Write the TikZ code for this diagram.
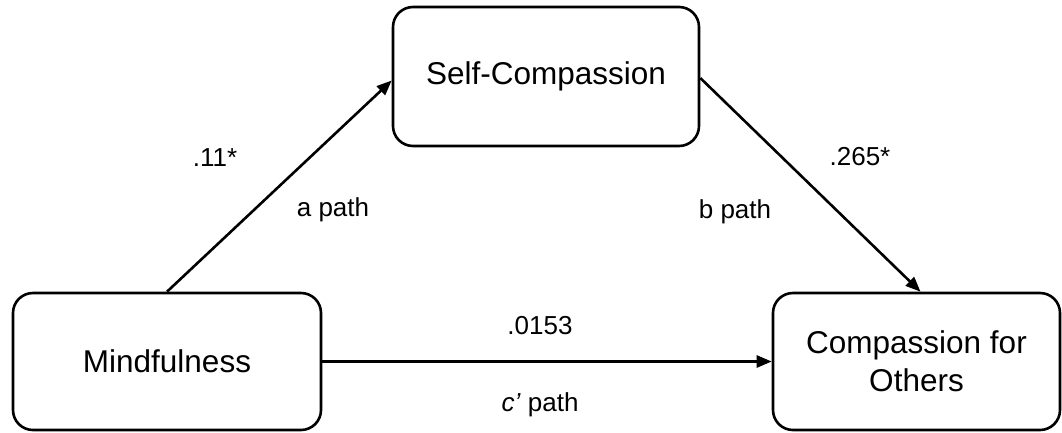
\documentclass[tikz,border=0pt]{standalone}
\usepackage{fontspec}
\setmainfont{Liberation Sans}
\usetikzlibrary{arrows.meta}
\begin{document}
\begin{tikzpicture}[x=1pt,y=-1pt,
  box/.style={draw=black,line width=2.6pt,rounded corners=20pt,align=center,
    font=\fontsize{31.5}{38}\selectfont,inner sep=0pt},
  conn/.style={line width=2.6pt,-{Triangle[length=15pt,width=12pt]}},
  lbl/.style={font=\fontsize{26}{30}\selectfont,inner sep=0pt}]
\useasboundingbox (0,0) rectangle (1062,432);
\node[box,minimum width=306pt,minimum height=139pt] (S) at (546,76.5) {Self-Compassion};
\node[box,minimum width=308pt,minimum height=137pt] (M) at (167,361.5) {Mindfulness};
\node[box,minimum width=287pt,minimum height=137pt] (C) at (916.5,361.5) {Compassion for\\Others};
\coordinate (Sa) at ([yshift=-4pt]S.west);
\coordinate (Sb) at ([yshift=-1.5pt]S.east);
\coordinate (Ct) at ([xshift=4pt]C.north);
\draw[conn] (M.north) -- (Sa);
\draw[conn] (Sb) -- (Ct);
\draw[conn] (M.east) -- (C.west);
\node[lbl] (l1) at (215,158) {.11*};
\node[lbl] (l2) at (333,210) {a path};
\node[lbl] (l3) at (860,157) {.265*};
\node[lbl] (l4) at (735,212) {b path};
\node[lbl] (l5) at (540,326) {.0153};
\node[lbl] (l6) at (540,405) {\textit{c’} path};
\end{tikzpicture}
\end{document}
